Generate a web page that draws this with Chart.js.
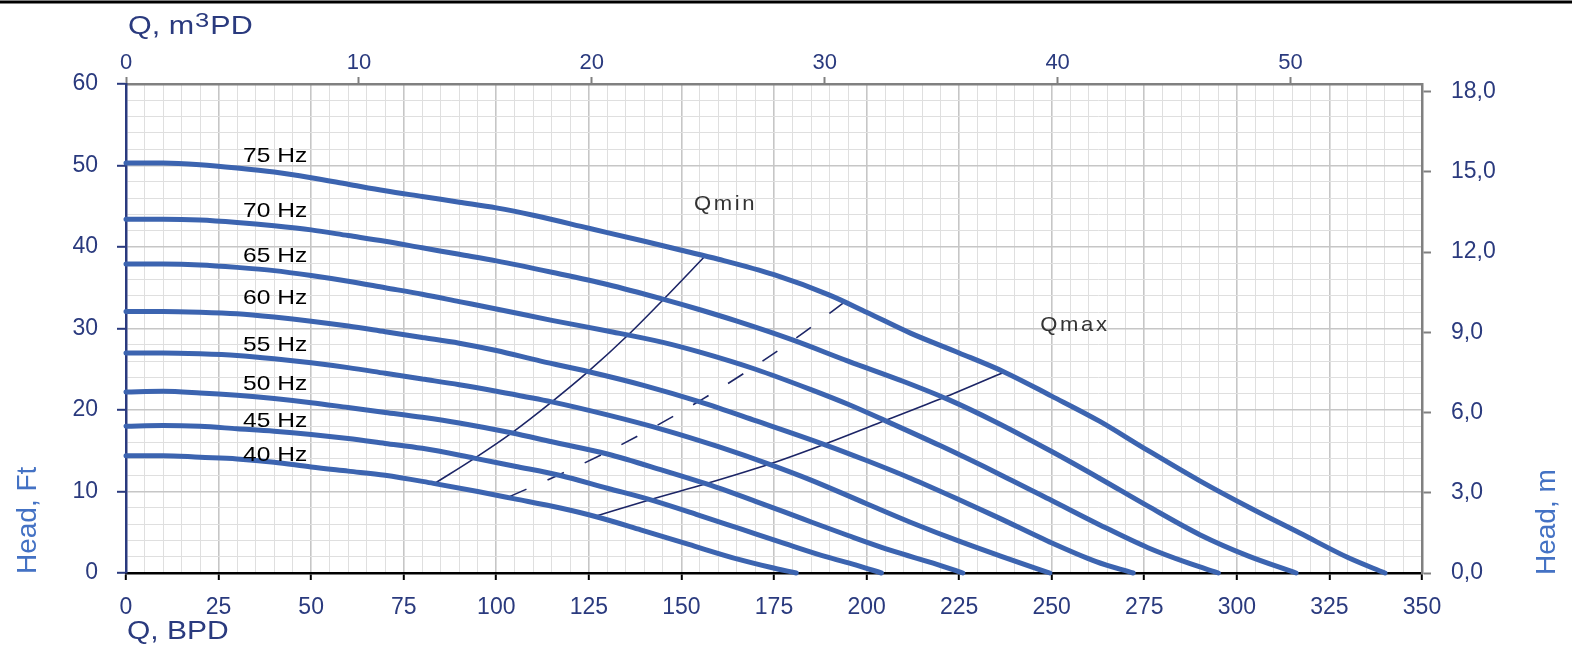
<!DOCTYPE html>
<html><head><meta charset="utf-8">
<script src="https://cdn.jsdelivr.net/npm/chart.js@4/dist/chart.umd.min.js"></script>
<style>html,body{margin:0;padding:0;background:#fff;overflow:hidden}#wrap{width:1572px;height:649px;position:relative}canvas{display:block}</style>
</head><body><div id="wrap"><canvas id="c" width="1572" height="649"></canvas></div>
<script>
// ---- data (Q in BPD, Head in Ft) ----
const q75=[0,10,20,30,40,50,60,70,80,90,100,110,125,140,150,160,175,190,200,212,225,237,250,263,275,290,303.5,317,330,340];
const h75=[50.3,50.3,50.1,49.7,49.2,48.5,47.7,46.9,46.2,45.5,44.8,43.9,42.3,40.7,39.6,38.5,36.6,34.1,32.0,29.4,27.0,24.7,21.7,18.6,15.3,11.3,8.0,4.9,1.9,0];
const q70=[0,10,20,30,40,50,60,70,80,90,100,115,130,145,155,165,180,195,210,222,235,250,263,276,290,303,316];
const h70=[43.4,43.4,43.3,43.0,42.6,42.1,41.4,40.7,39.9,39.1,38.3,36.9,35.4,33.6,32.3,30.9,28.6,26.0,23.5,21.3,18.5,14.9,11.6,8.2,4.7,2.1,0];
const q65=[0,10,20,30,40,50,60,70,80,90,100,115,130,145,155,170,185,195,205,220,236,250,263,276,287,295];
const h65=[37.9,37.9,37.8,37.5,37.1,36.5,35.8,35.0,34.2,33.3,32.4,31.0,29.7,28.3,27.1,25.0,22.5,20.7,18.7,15.6,12.1,8.9,5.9,3.1,1.2,0];
const q60=[0,10,20,30,40,50,60,70,80,90,100,112,125,140,155,170,189,200,212,224,236,249,262,272];
const h60=[32.1,32.1,32.0,31.8,31.4,30.9,30.3,29.6,28.9,28.2,27.3,26.0,24.7,23.0,21.0,18.7,15.7,13.8,11.6,9.2,6.7,3.9,1.4,0];
const q55=[0,10,20,30,40,50,60,70,80,90,100,115,130,145,160,174,185,200,212,225,236,243,249.5];
const h55=[27.0,27.0,26.9,26.7,26.3,25.8,25.2,24.5,23.8,23.1,22.3,21.0,19.4,17.6,15.5,13.3,11.4,8.5,6.2,3.9,2.1,1.0,0];
const q50=[0,10,20,30,40,50,60,70,80,90,104,115,130,145,157,170,183,195,207,218,226];
const h50=[22.2,22.3,22.1,21.8,21.4,20.9,20.3,19.7,19.1,18.4,17.2,16.1,14.6,12.6,10.9,8.8,6.6,4.6,2.7,1.2,0];
const q45=[0,10,20,30,40,50,60,70,80,94,105,117,130,141.5,154,166,178,189,197,204];
const h45=[18.0,18.1,18.0,17.7,17.4,17.0,16.5,15.9,15.3,14.1,13.1,12.0,10.4,9.0,7.2,5.4,3.6,2.0,1.0,0];
const q40=[0,10,20,30,40,50,60,70,83,95,105,117,127,139,152,166,174,181];
const h40=[14.4,14.4,14.2,14.0,13.6,13.0,12.5,12.0,11.0,10.0,9.1,8.0,6.9,5.3,3.5,1.6,0.7,0];
const qQmin=[83.4,94.2,104.2,115,124.8,135.6,145,156.4];
const hQmin=[11.0,14.1,17.2,21.0,24.7,29.2,33.5,38.9];
const qQmax=[127,141.5,157,174,189.2,205,220.7,237.4];
const hQmax=[7.0,9.0,11.0,13.4,15.9,18.7,21.5,24.7];
const qMid=[103.7,116.7,129.7,142.6,155.6,168.6,181.5,194.5];
const hMid=[9.4,12.0,14.8,17.9,21.3,25.0,29.0,33.4];
const hzNames=['75 Hz','70 Hz','65 Hz','60 Hz','55 Hz','50 Hz','45 Hz','40 Hz'];
const hzLabelQ=31.6;
const hzLabelH=[51.2,44.4,38.9,33.7,27.9,23.2,18.6,14.4];
const markNames=['Qmin','Qmax'];
const markQ=[153.4,246.9];
const markH=[45.2,30.4];
const xTickLabels=[0,25,50,75,100,125,150,175,200,225,250,275,300,325,350];
const BPD_TO_M3=0.158987, FT_TO_M=0.3048;

// ---- styles ----
const FONT="'Liberation Sans', Arial, Helvetica, sans-serif";
const NAVY='#2a3a7e', BLUE='#3c64b0', DARK='#1c2566', GRAY='#808080';
const MAJ='#c6c6c6', MIN='#dfdfdf';
const pts=(q,h)=>q.map((v,i)=>({x:v,y:h[i]}));
const curve=(q,h)=>({data:pts(q,h),showLine:true,borderColor:BLUE,borderWidth:5,pointRadius:0,cubicInterpolationMode:'monotone',borderCapStyle:'round',borderJoinStyle:'round',clip:false});
const thin=(q,h,dash)=>({data:pts(q,h),showLine:true,borderColor:DARK,borderWidth:1.6,pointRadius:0,cubicInterpolationMode:'monotone',borderDash:dash||[],clip:false});

function wideText(ctx,t,x,y,sx){ctx.save();ctx.translate(x,y);ctx.scale(sx,1);ctx.fillText(t,0,0);ctx.restore();}

const deco={
  id:'deco',
  afterDatasetsDraw(chart){
    const ctx=chart.ctx, xs=chart.scales.x, ys=chart.scales.y;
    ctx.save();
    ctx.fillStyle='#000';ctx.font='21px '+FONT;ctx.textBaseline='middle';ctx.textAlign='left';
    hzNames.forEach((t,i)=>wideText(ctx,t,xs.getPixelForValue(hzLabelQ),ys.getPixelForValue(hzLabelH[i]),1.17));
    ctx.fillStyle='#333';ctx.font='21px '+FONT;
    try{ctx.letterSpacing='2.5px';}catch(e){}
    markNames.forEach((t,i)=>wideText(ctx,t,xs.getPixelForValue(markQ[i]),ys.getPixelForValue(markH[i]),1.05));
    ctx.restore();
  },
  afterDraw(chart){
    const ctx=chart.ctx;
    ctx.save();
    ctx.fillStyle='#000';ctx.fillRect(0,0.5,1572,3);
    ctx.textBaseline='alphabetic';ctx.textAlign='left';
    ctx.fillStyle=NAVY;
    const S=1.22;
    let x=128;
    ctx.font='25px '+FONT;wideText(ctx,'Q, m',x,34,S);x+=ctx.measureText('Q, m').width*S+1;
    ctx.font='21px '+FONT;wideText(ctx,'3',x,27,S);x+=ctx.measureText('3').width*S+1;
    ctx.font='25px '+FONT;wideText(ctx,'PD',x,34,S);
    wideText(ctx,'Q, BPD',127,639,1.2);
    ctx.fillStyle='#4472c4';ctx.font='28px '+FONT;
    ctx.save();ctx.translate(36,574);ctx.rotate(-Math.PI/2);ctx.fillText('Head, Ft',0,0);ctx.restore();
    ctx.save();ctx.translate(1555,575);ctx.rotate(-Math.PI/2);ctx.fillText('Head, m',0,0);ctx.restore();
    ctx.restore();
  }
};

const tickFont={family:FONT,size:23};
new Chart(document.getElementById('c'),{
  type:'scatter',
  data:{datasets:[
    curve(q75,h75),curve(q70,h70),curve(q65,h65),curve(q60,h60),
    curve(q55,h55),curve(q50,h50),curve(q45,h45),curve(q40,h40),
    thin(qQmin,hQmin),thin(qQmax,hQmax),thin(qMid,hMid,[18,23])
  ]},
  options:{
    responsive:false,animation:false,devicePixelRatio:1,
    layout:{padding:0},
    plugins:{legend:{display:false},tooltip:{enabled:false}},
    scales:{
      x:{type:'linear',position:'bottom',min:0,max:350,
        afterFit:s=>{s.height=76;},
        ticks:{stepSize:5,autoSkip:false,maxRotation:0,padding:14,color:NAVY,font:tickFont,
          callback:v=>xTickLabels.includes(v)?String(v):''},
        grid:{color:c=>c.tick&&c.tick.value%25===0?MAJ:MIN,lineWidth:c=>c.tick&&c.tick.value%25===0?1.6:1,
          tickLength:7,tickWidth:2,tickColor:c=>c.tick&&c.tick.value%25===0?'#000':'rgba(0,0,0,0)'},
        border:{color:'#000',width:2.5}},
      x2:{type:'linear',position:'top',min:0,max:350*BPD_TO_M3,
        afterFit:s=>{s.height=84;},
        ticks:{stepSize:10,includeBounds:false,padding:1,color:NAVY,font:{family:FONT,size:22},maxRotation:0},
        grid:{drawOnChartArea:false,tickLength:7,tickWidth:2,tickColor:GRAY},
        border:{color:GRAY,width:2.5}},
      y:{type:'linear',position:'left',min:0,max:60,
        afterFit:s=>{s.width=126;},
        ticks:{stepSize:2,autoSkip:false,padding:19,color:NAVY,font:tickFont,
          callback:v=>v%10===0?String(v):''},
        grid:{color:c=>c.tick&&c.tick.value%10===0?MAJ:MIN,lineWidth:c=>c.tick&&c.tick.value%10===0?1.6:1,
          tickLength:9,tickWidth:2,tickColor:c=>c.tick&&c.tick.value%10===0?NAVY:'rgba(0,0,0,0)'},
        border:{color:NAVY,width:2.5}},
      y2:{type:'linear',position:'right',min:0,max:60*FT_TO_M,
        afterFit:s=>{s.width=150;},
        ticks:{stepSize:3,includeBounds:false,padding:20,color:NAVY,font:tickFont,
          callback:v=>v.toFixed(1).replace('.',',')},
        grid:{drawOnChartArea:false,tickLength:9,tickWidth:2,tickColor:GRAY},
        border:{color:GRAY,width:2.5}}
    }
  },
  plugins:[deco]
});
</script></body></html>
